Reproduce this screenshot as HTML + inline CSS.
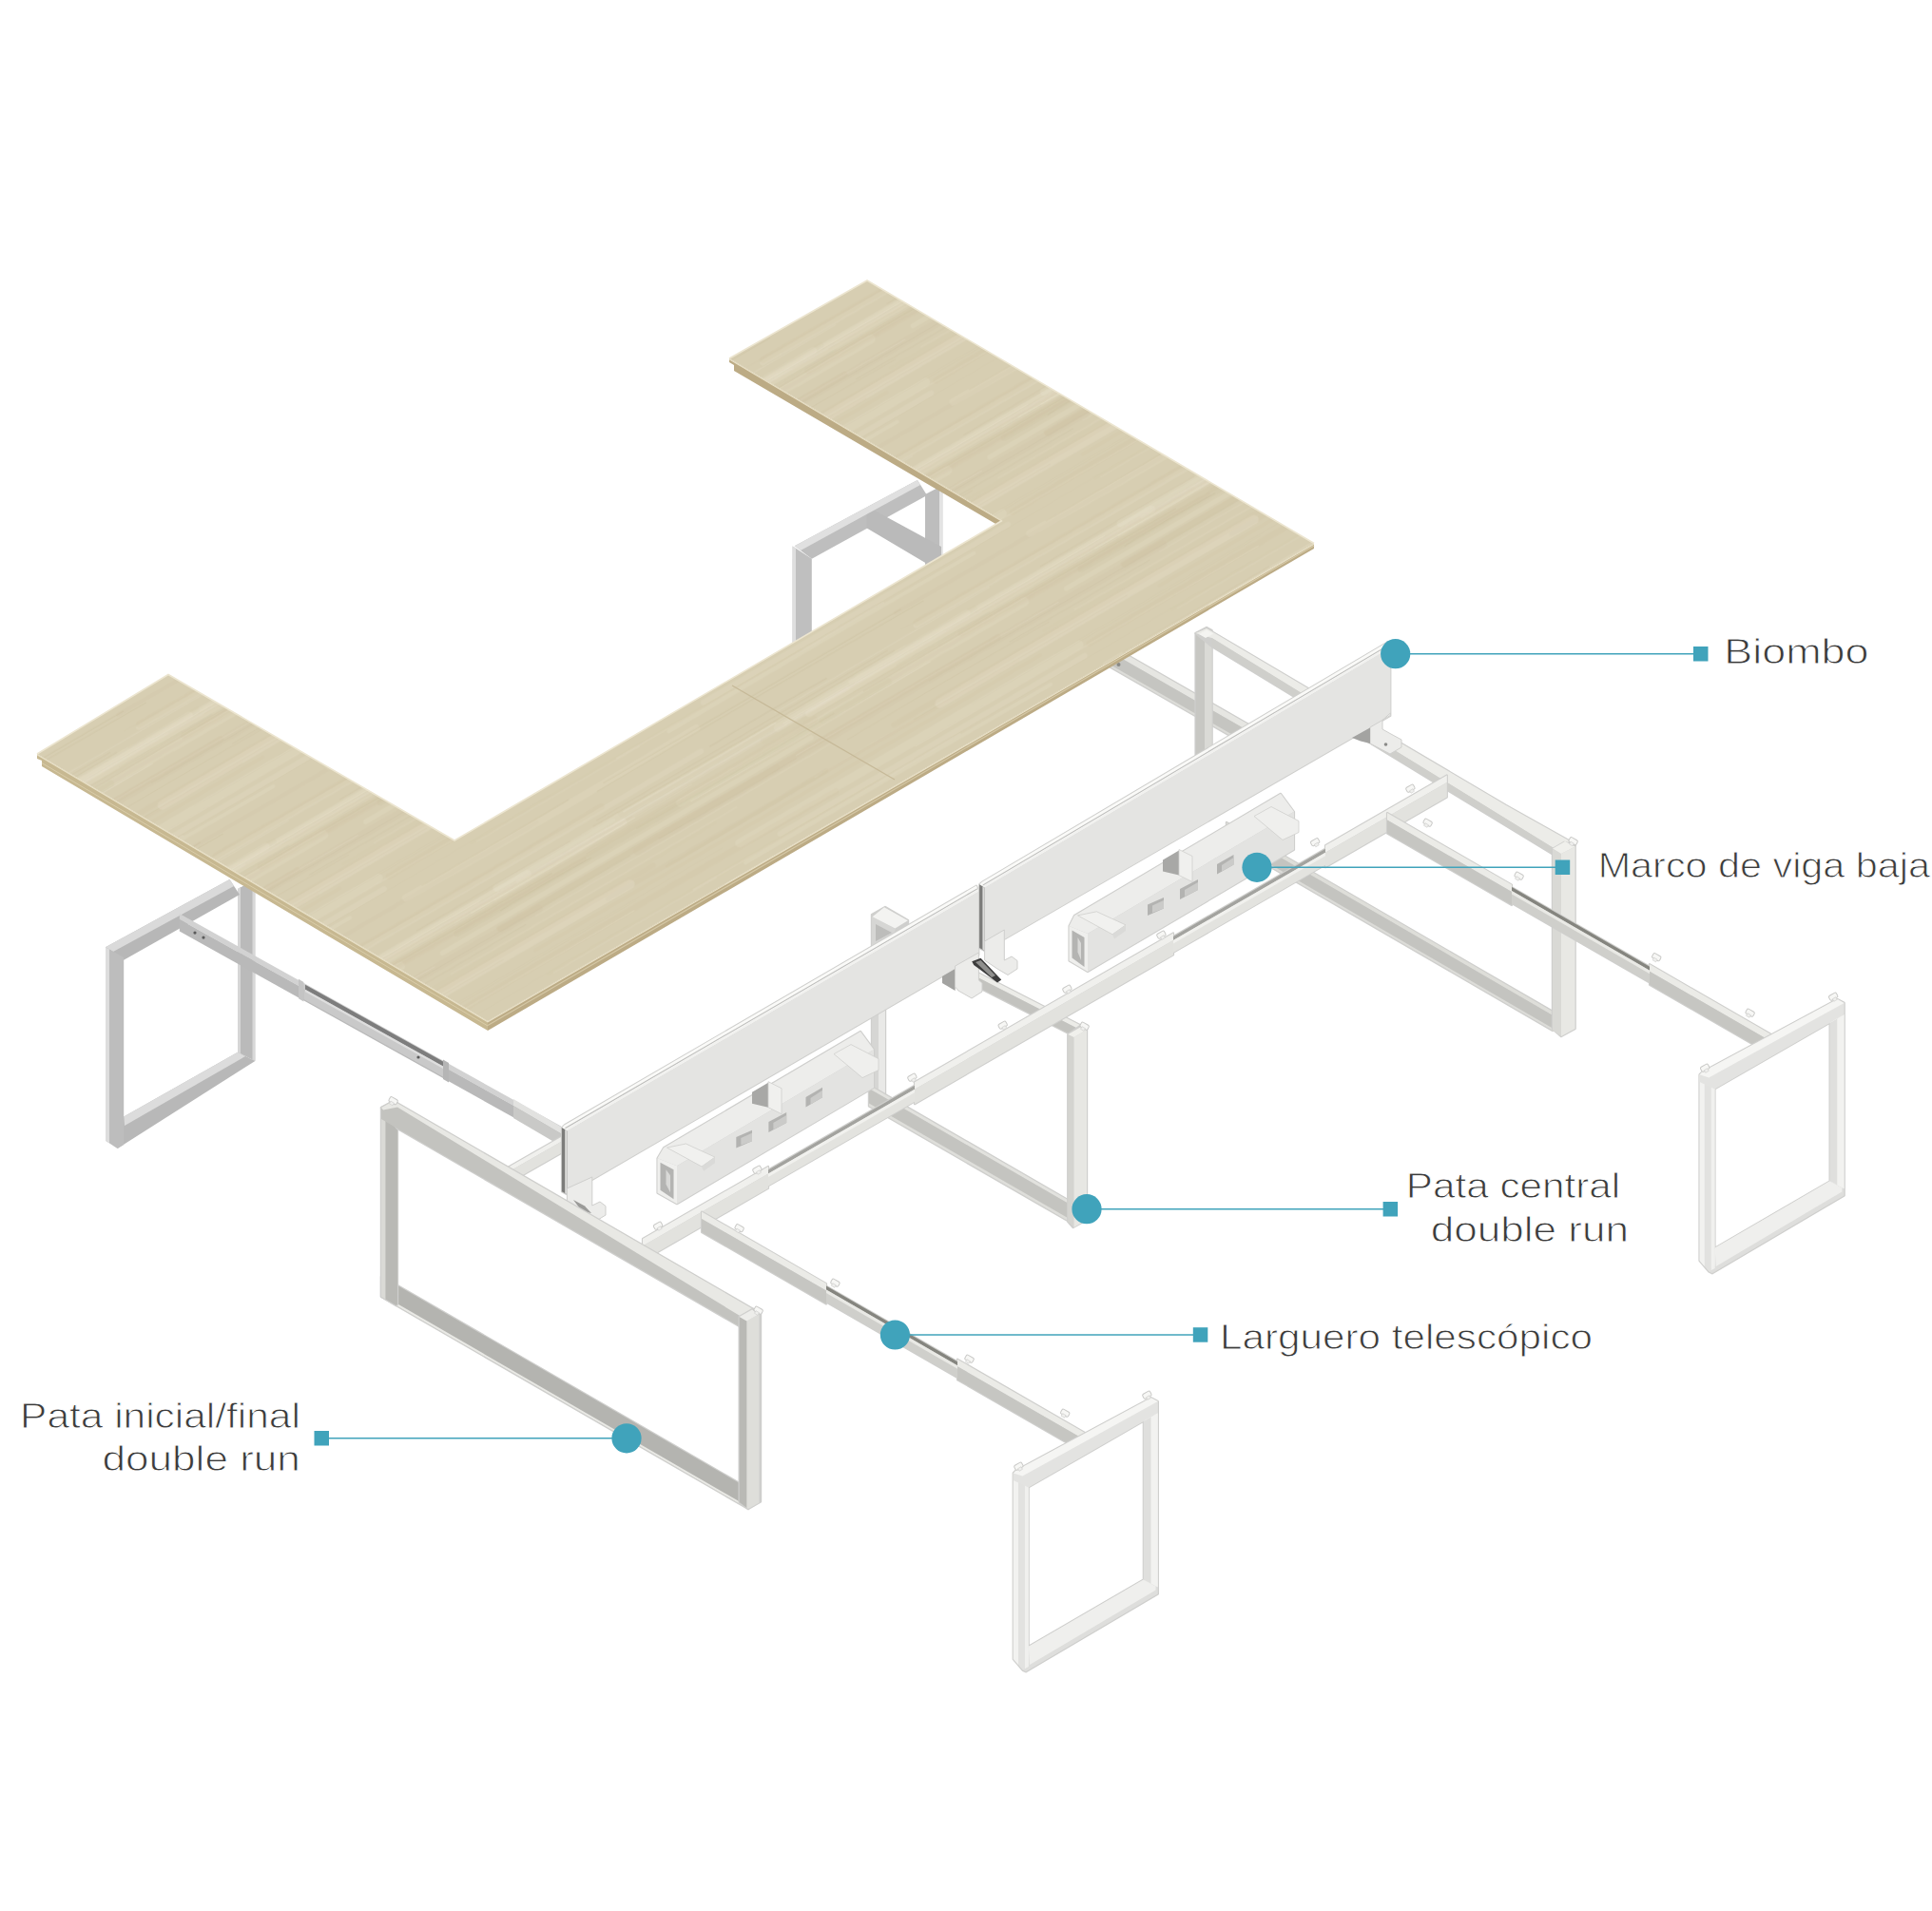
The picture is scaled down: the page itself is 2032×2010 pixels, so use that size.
<!DOCTYPE html>
<html lang="es"><head><meta charset="utf-8"><title>Despiece double run</title>
<style>
html,body{margin:0;padding:0;background:#fff}
svg{display:block}
text{font-family:"Liberation Sans",sans-serif;font-size:36.5px;fill:#3b3b3b;stroke:#fff;stroke-width:0.9px}
</style></head><body>
<svg width="2032" height="2010" viewBox="0 0 2032 2010">
<defs>
<pattern id="grainp" width="760" height="160" patternUnits="userSpaceOnUse" patternTransform="rotate(-30.3)"><path d="M-39 148.0 q303 -0.5 607 0" stroke="#c4b692" stroke-opacity="0.12" stroke-width="6.7" stroke-linecap="round" fill="none"/><path d="M721 148.0 q303 -0.5 607 0" stroke="#c4b692" stroke-opacity="0.12" stroke-width="6.7" stroke-linecap="round" fill="none"/><path d="M146 20.8 q214 -2.9 428 0" stroke="#c4b692" stroke-opacity="0.11" stroke-width="3.6" stroke-linecap="round" fill="none"/><path d="M-440 113.6 q228 -2.7 455 0" stroke="#ede7d3" stroke-opacity="0.17" stroke-width="8.5" stroke-linecap="round" fill="none"/><path d="M320 113.6 q228 -2.7 455 0" stroke="#ede7d3" stroke-opacity="0.17" stroke-width="8.5" stroke-linecap="round" fill="none"/><path d="M-260 94.3 q249 1.6 498 0" stroke="#ede7d3" stroke-opacity="0.17" stroke-width="5.6" stroke-linecap="round" fill="none"/><path d="M500 94.3 q249 1.6 498 0" stroke="#ede7d3" stroke-opacity="0.17" stroke-width="5.6" stroke-linecap="round" fill="none"/><path d="M-258 91.5 q188 1.3 376 0" stroke="#c4b692" stroke-opacity="0.11" stroke-width="7.1" stroke-linecap="round" fill="none"/><path d="M502 91.5 q188 1.3 376 0" stroke="#c4b692" stroke-opacity="0.11" stroke-width="7.1" stroke-linecap="round" fill="none"/><path d="M-272 71.6 q161 1.9 323 0" stroke="#c4b692" stroke-opacity="0.10" stroke-width="4.4" stroke-linecap="round" fill="none"/><path d="M488 71.6 q161 1.9 323 0" stroke="#c4b692" stroke-opacity="0.10" stroke-width="4.4" stroke-linecap="round" fill="none"/><path d="M75 18.3 q133 1.9 266 0" stroke="#c4b692" stroke-opacity="0.12" stroke-width="5.3" stroke-linecap="round" fill="none"/><path d="M219 59.1 q186 -1.4 372 0" stroke="#ede7d3" stroke-opacity="0.20" stroke-width="3.7" stroke-linecap="round" fill="none"/><path d="M-223 125.4 q291 2.5 581 0" stroke="#c4b692" stroke-opacity="0.11" stroke-width="7.1" stroke-linecap="round" fill="none"/><path d="M537 125.4 q291 2.5 581 0" stroke="#c4b692" stroke-opacity="0.11" stroke-width="7.1" stroke-linecap="round" fill="none"/><path d="M-633 -8.7 q320 -2.9 640 0" stroke="#c4b692" stroke-opacity="0.10" stroke-width="8.7" stroke-linecap="round" fill="none"/><path d="M-633 151.3 q320 -2.9 640 0" stroke="#c4b692" stroke-opacity="0.10" stroke-width="8.7" stroke-linecap="round" fill="none"/><path d="M127 -8.7 q320 -2.9 640 0" stroke="#c4b692" stroke-opacity="0.10" stroke-width="8.7" stroke-linecap="round" fill="none"/><path d="M127 151.3 q320 -2.9 640 0" stroke="#c4b692" stroke-opacity="0.10" stroke-width="8.7" stroke-linecap="round" fill="none"/><path d="M-20 110.0 q286 2.9 572 0" stroke="#ede7d3" stroke-opacity="0.20" stroke-width="8.2" stroke-linecap="round" fill="none"/><path d="M740 110.0 q286 2.9 572 0" stroke="#ede7d3" stroke-opacity="0.20" stroke-width="8.2" stroke-linecap="round" fill="none"/><path d="M-19 55.4 q200 -0.2 401 0" stroke="#c4b692" stroke-opacity="0.08" stroke-width="4.4" stroke-linecap="round" fill="none"/><path d="M741 55.4 q200 -0.2 401 0" stroke="#c4b692" stroke-opacity="0.08" stroke-width="4.4" stroke-linecap="round" fill="none"/><path d="M-38 -10.6 q168 -2.0 336 0" stroke="#c4b692" stroke-opacity="0.11" stroke-width="6.8" stroke-linecap="round" fill="none"/><path d="M-38 149.4 q168 -2.0 336 0" stroke="#c4b692" stroke-opacity="0.11" stroke-width="6.8" stroke-linecap="round" fill="none"/><path d="M722 -10.6 q168 -2.0 336 0" stroke="#c4b692" stroke-opacity="0.11" stroke-width="6.8" stroke-linecap="round" fill="none"/><path d="M722 149.4 q168 -2.0 336 0" stroke="#c4b692" stroke-opacity="0.11" stroke-width="6.8" stroke-linecap="round" fill="none"/><path d="M192 130.1 q209 -0.9 419 0" stroke="#ede7d3" stroke-opacity="0.18" stroke-width="9.2" stroke-linecap="round" fill="none"/><path d="M-80 130.2 q263 2.0 525 0" stroke="#c4b692" stroke-opacity="0.13" stroke-width="7.5" stroke-linecap="round" fill="none"/><path d="M680 130.2 q263 2.0 525 0" stroke="#c4b692" stroke-opacity="0.13" stroke-width="7.5" stroke-linecap="round" fill="none"/><path d="M224 38.1 q207 0.3 414 0" stroke="#ede7d3" stroke-opacity="0.20" stroke-width="8.8" stroke-linecap="round" fill="none"/><path d="M-280 17.4 q192 -1.5 383 0" stroke="#ede7d3" stroke-opacity="0.24" stroke-width="9.7" stroke-linecap="round" fill="none"/><path d="M480 17.4 q192 -1.5 383 0" stroke="#ede7d3" stroke-opacity="0.24" stroke-width="9.7" stroke-linecap="round" fill="none"/><path d="M-333 12.6 q233 -0.2 467 0" stroke="#c4b692" stroke-opacity="0.11" stroke-width="6.1" stroke-linecap="round" fill="none"/><path d="M427 12.6 q233 -0.2 467 0" stroke="#c4b692" stroke-opacity="0.11" stroke-width="6.1" stroke-linecap="round" fill="none"/><path d="M3 114.9 q200 2.2 401 0" stroke="#ede7d3" stroke-opacity="0.14" stroke-width="4.4" stroke-linecap="round" fill="none"/><path d="M763 114.9 q200 2.2 401 0" stroke="#ede7d3" stroke-opacity="0.14" stroke-width="4.4" stroke-linecap="round" fill="none"/><path d="M132 109.0 q215 1.2 430 0" stroke="#c4b692" stroke-opacity="0.08" stroke-width="6.4" stroke-linecap="round" fill="none"/><path d="M-350 110.2 q236 2.4 472 0" stroke="#ede7d3" stroke-opacity="0.16" stroke-width="3.6" stroke-linecap="round" fill="none"/><path d="M410 110.2 q236 2.4 472 0" stroke="#ede7d3" stroke-opacity="0.16" stroke-width="3.6" stroke-linecap="round" fill="none"/><path d="M-104 140.3 q225 0.6 449 0" stroke="#ede7d3" stroke-opacity="0.21" stroke-width="5.0" stroke-linecap="round" fill="none"/><path d="M656 140.3 q225 0.6 449 0" stroke="#ede7d3" stroke-opacity="0.21" stroke-width="5.0" stroke-linecap="round" fill="none"/><path d="M266 51.1 q185 -0.7 371 0" stroke="#ede7d3" stroke-opacity="0.17" stroke-width="5.9" stroke-linecap="round" fill="none"/><path d="M-397 130.6 q236 -2.5 472 0" stroke="#c4b692" stroke-opacity="0.09" stroke-width="4.5" stroke-linecap="round" fill="none"/><path d="M363 130.6 q236 -2.5 472 0" stroke="#c4b692" stroke-opacity="0.09" stroke-width="4.5" stroke-linecap="round" fill="none"/><path d="M-112 42.2 q225 -2.3 451 0" stroke="#c4b692" stroke-opacity="0.11" stroke-width="7.0" stroke-linecap="round" fill="none"/><path d="M648 42.2 q225 -2.3 451 0" stroke="#c4b692" stroke-opacity="0.11" stroke-width="7.0" stroke-linecap="round" fill="none"/><path d="M-108 70.7 q177 2.9 354 0" stroke="#ede7d3" stroke-opacity="0.15" stroke-width="7.4" stroke-linecap="round" fill="none"/><path d="M652 70.7 q177 2.9 354 0" stroke="#ede7d3" stroke-opacity="0.15" stroke-width="7.4" stroke-linecap="round" fill="none"/><path d="M-147 6.8 q180 2.0 360 0" stroke="#c4b692" stroke-opacity="0.08" stroke-width="3.6" stroke-linecap="round" fill="none"/><path d="M-147 166.8 q180 2.0 360 0" stroke="#c4b692" stroke-opacity="0.08" stroke-width="3.6" stroke-linecap="round" fill="none"/><path d="M613 6.8 q180 2.0 360 0" stroke="#c4b692" stroke-opacity="0.08" stroke-width="3.6" stroke-linecap="round" fill="none"/><path d="M613 166.8 q180 2.0 360 0" stroke="#c4b692" stroke-opacity="0.08" stroke-width="3.6" stroke-linecap="round" fill="none"/><path d="M-459 118.1 q261 2.5 522 0" stroke="#c4b692" stroke-opacity="0.08" stroke-width="7.6" stroke-linecap="round" fill="none"/><path d="M301 118.1 q261 2.5 522 0" stroke="#c4b692" stroke-opacity="0.08" stroke-width="7.6" stroke-linecap="round" fill="none"/><path d="M-18 27.1 q307 0.7 615 0" stroke="#c4b692" stroke-opacity="0.07" stroke-width="4.0" stroke-linecap="round" fill="none"/><path d="M742 27.1 q307 0.7 615 0" stroke="#c4b692" stroke-opacity="0.07" stroke-width="4.0" stroke-linecap="round" fill="none"/><path d="M-404 117.1 q267 1.9 534 0" stroke="#ede7d3" stroke-opacity="0.23" stroke-width="7.2" stroke-linecap="round" fill="none"/><path d="M356 117.1 q267 1.9 534 0" stroke="#ede7d3" stroke-opacity="0.23" stroke-width="7.2" stroke-linecap="round" fill="none"/><path d="M248 94.6 q71 -1.2 143 0" stroke="#b5a680" stroke-opacity="0.14" stroke-width="1.6" fill="none"/><path d="M576 -1.3 q86 0.7 171 0" stroke="#b5a680" stroke-opacity="0.14" stroke-width="1.0" fill="none"/><path d="M576 158.7 q86 0.7 171 0" stroke="#b5a680" stroke-opacity="0.14" stroke-width="1.0" fill="none"/><path d="M-57 119.2 q100 1.9 200 0" stroke="#f4efde" stroke-opacity="0.22" stroke-width="1.0" fill="none"/><path d="M703 119.2 q100 1.9 200 0" stroke="#f4efde" stroke-opacity="0.22" stroke-width="1.0" fill="none"/><path d="M-14 57.1 q100 -0.6 199 0" stroke="#f4efde" stroke-opacity="0.16" stroke-width="1.0" fill="none"/><path d="M746 57.1 q100 -0.6 199 0" stroke="#f4efde" stroke-opacity="0.16" stroke-width="1.0" fill="none"/><path d="M407 121.3 q84 -0.7 167 0" stroke="#b5a680" stroke-opacity="0.07" stroke-width="1.6" fill="none"/><path d="M122 75.6 q199 -1.9 398 0" stroke="#b5a680" stroke-opacity="0.15" stroke-width="1.3" fill="none"/><path d="M132 71.3 q181 0.1 363 0" stroke="#b5a680" stroke-opacity="0.15" stroke-width="1.6" fill="none"/><path d="M138 130.2 q120 1.9 241 0" stroke="#b5a680" stroke-opacity="0.13" stroke-width="1.6" fill="none"/><path d="M297 134.4 q111 -0.4 222 0" stroke="#b5a680" stroke-opacity="0.06" stroke-width="1.3" fill="none"/><path d="M109 115.1 q207 -0.1 415 0" stroke="#f4efde" stroke-opacity="0.20" stroke-width="0.8" fill="none"/><path d="M322 148.5 q160 -1.5 320 0" stroke="#f4efde" stroke-opacity="0.20" stroke-width="0.8" fill="none"/><path d="M461 120.0 q135 1.9 270 0" stroke="#b5a680" stroke-opacity="0.09" stroke-width="1.3" fill="none"/><path d="M327 112.6 q196 -0.6 392 0" stroke="#f4efde" stroke-opacity="0.17" stroke-width="0.8" fill="none"/><path d="M-252 35.2 q176 1.1 352 0" stroke="#b5a680" stroke-opacity="0.07" stroke-width="1.0" fill="none"/><path d="M508 35.2 q176 1.1 352 0" stroke="#b5a680" stroke-opacity="0.07" stroke-width="1.0" fill="none"/><path d="M85 106.7 q197 1.3 395 0" stroke="#f4efde" stroke-opacity="0.11" stroke-width="0.8" fill="none"/><path d="M-29 132.7 q55 -1.9 111 0" stroke="#b5a680" stroke-opacity="0.14" stroke-width="1.3" fill="none"/><path d="M731 132.7 q55 -1.9 111 0" stroke="#b5a680" stroke-opacity="0.14" stroke-width="1.3" fill="none"/><path d="M-325 43.5 q209 -1.2 418 0" stroke="#f4efde" stroke-opacity="0.21" stroke-width="0.8" fill="none"/><path d="M435 43.5 q209 -1.2 418 0" stroke="#f4efde" stroke-opacity="0.21" stroke-width="0.8" fill="none"/><path d="M100 105.1 q184 1.6 367 0" stroke="#b5a680" stroke-opacity="0.13" stroke-width="1.3" fill="none"/><path d="M0 -3.9 q180 0.3 359 0" stroke="#f4efde" stroke-opacity="0.17" stroke-width="0.8" fill="none"/><path d="M0 156.1 q180 0.3 359 0" stroke="#f4efde" stroke-opacity="0.17" stroke-width="0.8" fill="none"/><path d="M760 -3.9 q180 0.3 359 0" stroke="#f4efde" stroke-opacity="0.17" stroke-width="0.8" fill="none"/><path d="M760 156.1 q180 0.3 359 0" stroke="#f4efde" stroke-opacity="0.17" stroke-width="0.8" fill="none"/><path d="M106 101.8 q177 0.0 355 0" stroke="#b5a680" stroke-opacity="0.11" stroke-width="1.6" fill="none"/><path d="M377 1.3 q123 -1.9 246 0" stroke="#b5a680" stroke-opacity="0.12" stroke-width="1.0" fill="none"/><path d="M377 161.3 q123 -1.9 246 0" stroke="#b5a680" stroke-opacity="0.12" stroke-width="1.0" fill="none"/><path d="M-149 33.3 q177 0.3 355 0" stroke="#b5a680" stroke-opacity="0.07" stroke-width="0.8" fill="none"/><path d="M611 33.3 q177 0.3 355 0" stroke="#b5a680" stroke-opacity="0.07" stroke-width="0.8" fill="none"/><path d="M325 98.2 q131 0.1 262 0" stroke="#f4efde" stroke-opacity="0.16" stroke-width="1.0" fill="none"/><path d="M202 134.3 q146 1.8 292 0" stroke="#f4efde" stroke-opacity="0.19" stroke-width="1.0" fill="none"/><path d="M327 18.4 q60 -0.7 121 0" stroke="#f4efde" stroke-opacity="0.15" stroke-width="0.8" fill="none"/><path d="M112 113.8 q151 0.2 302 0" stroke="#b5a680" stroke-opacity="0.08" stroke-width="1.0" fill="none"/><path d="M-332 53.7 q206 1.5 411 0" stroke="#b5a680" stroke-opacity="0.07" stroke-width="0.8" fill="none"/><path d="M428 53.7 q206 1.5 411 0" stroke="#b5a680" stroke-opacity="0.07" stroke-width="0.8" fill="none"/><path d="M-276 89.9 q171 1.7 343 0" stroke="#b5a680" stroke-opacity="0.06" stroke-width="1.3" fill="none"/><path d="M484 89.9 q171 1.7 343 0" stroke="#b5a680" stroke-opacity="0.06" stroke-width="1.3" fill="none"/><path d="M157 55.9 q163 1.2 326 0" stroke="#f4efde" stroke-opacity="0.14" stroke-width="1.6" fill="none"/><path d="M79 126.4 q135 -1.9 270 0" stroke="#b5a680" stroke-opacity="0.12" stroke-width="0.8" fill="none"/><path d="M-108 3.8 q174 0.9 349 0" stroke="#f4efde" stroke-opacity="0.11" stroke-width="1.3" fill="none"/><path d="M-108 163.8 q174 0.9 349 0" stroke="#f4efde" stroke-opacity="0.11" stroke-width="1.3" fill="none"/><path d="M652 3.8 q174 0.9 349 0" stroke="#f4efde" stroke-opacity="0.11" stroke-width="1.3" fill="none"/><path d="M652 163.8 q174 0.9 349 0" stroke="#f4efde" stroke-opacity="0.11" stroke-width="1.3" fill="none"/><path d="M-278 151.5 q198 0.1 396 0" stroke="#b5a680" stroke-opacity="0.09" stroke-width="1.6" fill="none"/><path d="M482 151.5 q198 0.1 396 0" stroke="#b5a680" stroke-opacity="0.09" stroke-width="1.6" fill="none"/><path d="M135 108.0 q93 1.3 186 0" stroke="#f4efde" stroke-opacity="0.19" stroke-width="1.3" fill="none"/><path d="M-343 125.9 q191 -1.8 381 0" stroke="#b5a680" stroke-opacity="0.12" stroke-width="1.6" fill="none"/><path d="M417 125.9 q191 -1.8 381 0" stroke="#b5a680" stroke-opacity="0.12" stroke-width="1.6" fill="none"/><path d="M-116 106.4 q94 -1.1 188 0" stroke="#b5a680" stroke-opacity="0.11" stroke-width="1.3" fill="none"/><path d="M644 106.4 q94 -1.1 188 0" stroke="#b5a680" stroke-opacity="0.11" stroke-width="1.3" fill="none"/><path d="M-87 68.0 q89 0.8 179 0" stroke="#b5a680" stroke-opacity="0.12" stroke-width="1.3" fill="none"/><path d="M673 68.0 q89 0.8 179 0" stroke="#b5a680" stroke-opacity="0.12" stroke-width="1.3" fill="none"/><path d="M153 151.2 q84 1.9 168 0" stroke="#b5a680" stroke-opacity="0.11" stroke-width="1.6" fill="none"/><path d="M-193 116.9 q167 0.4 334 0" stroke="#b5a680" stroke-opacity="0.11" stroke-width="0.8" fill="none"/><path d="M567 116.9 q167 0.4 334 0" stroke="#b5a680" stroke-opacity="0.11" stroke-width="0.8" fill="none"/><path d="M-77 119.5 q145 -1.5 289 0" stroke="#f4efde" stroke-opacity="0.11" stroke-width="1.0" fill="none"/><path d="M683 119.5 q145 -1.5 289 0" stroke="#f4efde" stroke-opacity="0.11" stroke-width="1.0" fill="none"/><path d="M331 18.6 q189 0.7 377 0" stroke="#b5a680" stroke-opacity="0.07" stroke-width="1.3" fill="none"/></pattern>
</defs>
<rect width="2032" height="2010" fill="#ffffff"/>
<g id="drawing">
<polygon points="250.0,935.0 268.3,925.0 268.3,1116.0 250.0,1106.8" fill="#bababa"/>
<polygon points="250.0,935.0 253.0,933.0 253.0,1108.5 250.0,1106.8" fill="#d6d6d6"/>
<polygon points="265.5,927.0 268.3,925.0 268.3,1116.0 265.5,1114.5" fill="#d8d8d8"/>
<polygon points="111.0,996.3 241.5,925.1 252.0,941.0 130.2,1009.7" fill="#b7b7b7"/>
<polygon points="111.0,996.3 241.5,925.1 246.0,932.0 119.0,1001.0" fill="#dadada"/>
<polygon points="130.2,1174.6 250.0,1106.8 268.3,1116.0 123.5,1208.0" fill="#b8b8b8"/>
<polygon points="130.2,1174.6 250.0,1106.8 258.0,1111.0 131.0,1184.0" fill="#dcdcdc"/>
<polygon points="111.0,996.3 130.2,1007.0 130.2,1204.0 123.5,1208.0 111.0,1199.7" fill="#bdbdbd"/>
<polygon points="111.0,996.3 115.0,998.5 115.0,1202.3 111.0,1199.7" fill="#dddddd"/>
<polygon points="188.8,961.1 590.0,1184.6 590.0,1190.6 188.8,967.1" fill="#d2d2d2"/>
<polygon points="188.8,967.1 590.0,1190.6 590.0,1203.1 188.8,979.6" fill="#b9b9b9"/>
<polygon points="319.4,1034.9 466.0,1116.5 466.0,1132.5 319.4,1050.9" fill="#c9c9c9"/>
<polygon points="321.0,1035.7 466.0,1116.5 466.0,1121.5 321.0,1040.7" fill="#7d7d7d"/>
<polygon points="321.0,1040.7 466.0,1121.5 466.0,1124.0 321.0,1043.2" fill="#dedede"/>
<polygon points="466.0,1114.5 472.0,1117.9 472.0,1138.4 466.0,1135.0" fill="#b5b5b5"/>
<polygon points="314.0,1029.8 319.4,1032.9 319.4,1053.4 314.0,1050.3" fill="#c4c4c4"/>
<circle cx="205.0" cy="981.1" r="1.6" fill="#5a5a5a"/>
<circle cx="214.0" cy="986.1" r="1.6" fill="#5a5a5a"/>
<circle cx="440.0" cy="1112.0" r="1.6" fill="#5a5a5a"/>
<circle cx="548.0" cy="1172.2" r="1.6" fill="#5a5a5a"/>
<polygon points="973.0,520.0 988.4,512.0 988.4,600.0 973.0,600.0" fill="#bdbdbd"/>
<polygon points="988.4,512.0 991.8,514.0 991.8,600.0 988.4,600.0" fill="#e3e3e3"/>
<polygon points="835.7,574.2 964.9,504.9 975.0,521.0 853.8,587.7" fill="#bebebe"/>
<polygon points="835.7,574.2 964.9,504.9 968.0,510.0 842.0,579.0" fill="#e0e0e0"/>
<polygon points="911.7,541.2 920.0,537.0 990.0,575.0 990.0,600.0 975.0,593.0 911.7,555.4" fill="#bababa"/>
<polygon points="833.6,574.5 853.8,587.7 853.8,690.0 833.6,690.0" fill="#bfbfbf"/>
<polygon points="833.6,574.5 837.0,576.5 837.0,690.0 833.6,690.0" fill="#dedede"/>
<polygon points="1163.0,676.0 1330.0,771.6 1330.0,794.6 1163.0,699.0" fill="#cfcfcd" stroke="#cfcfcd" stroke-width="2.4" stroke-linejoin="round"/>
<polygon points="1163.0,676.0 1330.0,771.6 1330.0,778.6 1163.0,683.0" fill="#e6e6e2"/>
<polygon points="1163.0,683.0 1330.0,778.6 1330.0,794.6 1163.0,699.0" fill="#c5c5c1"/>
<polygon points="1163.0,696.5 1330.0,792.1 1330.0,794.6 1163.0,699.0" fill="#dcdcd8"/>
<circle cx="1176.5" cy="699" r="2" fill="#8a8a86"/>
<polygon points="39.0,793.0 513.0,1074.0 513.0,1084.0 44.0,806.0 44.0,800.0 39.0,798.0" fill="#c7b891"/>
<polygon points="513.0,1074.0 1382.0,571.5 1382.0,577.0 513.0,1084.0" fill="#bcab85"/>
<polygon points="767.0,377.0 1054.0,547.5 1054.0,555.0 772.0,390.0 772.0,384.0 767.0,381.0" fill="#bcab85"/>
<line x1="44.0" y1="802.5" x2="513.0" y2="1079.0" stroke="#d9cca8" stroke-width="1"/>
<line x1="513.0" y1="1078.5" x2="1382.0" y2="574.0" stroke="#d4c7a5" stroke-width="1.2"/>
<polygon points="39,793 177,709.5 478,884 1054,547.5 767,377 912,295 1382,571.5 513,1074" fill="#d7ceb2"/>
<polygon points="39,793 177,709.5 478,884 1054,547.5 767,377 912,295 1382,571.5 513,1074" fill="url(#grainp)"/>
<line x1="770.0" y1="721.0" x2="941.0" y2="820.0" stroke="#c6b998" stroke-width="1.3"/>
<polyline points="39,793 177,709.5 478,884 1054,547.5" fill="none" stroke="#ece5d0" stroke-width="1.6"/>
<polyline points="767,377 912,295 1382,571.5" fill="none" stroke="#ece5d0" stroke-width="1.6"/>
<polyline points="39,793.8 513,1074.8 1382,572.3" fill="none" stroke="#e9e1c8" stroke-width="1.2"/>
<polyline points="767,377.8 1054,548.3" fill="none" stroke="#e9e1c8" stroke-width="1.2"/>
<polygon points="1290.0,865.0 1633.0,1063.9 1633.0,1083.9 1290.0,885.0" fill="#cfcfcd" stroke="#cfcfcd" stroke-width="2.4" stroke-linejoin="round"/>
<polygon points="1290.0,865.0 1633.0,1063.9 1633.0,1067.9 1290.0,869.0" fill="#deded9"/>
<polygon points="1290.0,869.0 1633.0,1067.9 1633.0,1083.9 1290.0,885.0" fill="#c4c4c0"/>
<polygon points="1290.0,882.5 1633.0,1081.4 1633.0,1083.9 1290.0,885.0" fill="#dcdcd8"/>
<polygon points="1257.6,666.0 1269.0,660.0 1274.6,663.0 1274.6,820.0 1257.6,820.0" fill="#cfcfcd" stroke="#cfcfcd" stroke-width="2.4" stroke-linejoin="round"/>
<polygon points="1257.6,666.0 1267.0,671.0 1267.0,820.0 1257.6,820.0" fill="#c7c7c3"/>
<polygon points="1267.0,671.0 1274.6,667.0 1274.6,820.0 1267.0,820.0" fill="#dadad6"/>
<polygon points="1257.6,666.0 1269.0,661.0 1584.0,847.0 1650.0,884.0 1656.6,889.0 1634.0,899.1 1274.6,679.9" fill="#cfcfcd" stroke="#cfcfcd" stroke-width="2.4" stroke-linejoin="round"/>
<polygon points="1257.6,666.0 1269.0,661.0 1584.0,847.0 1650.0,884.0 1656.6,889.0 1634.0,891.9 1274.6,671.1" fill="#ecece8"/>
<polygon points="1274.6,671.1 1634.0,891.9 1634.0,899.1 1274.6,679.9" fill="#cfcfcb"/>
<polygon points="1261.0,667.0 1269.0,662.5 1276.0,666.5 1268.0,671.0" fill="#f4f4f1"/>
<polygon points="1633.0,893.0 1645.0,886.0 1656.6,889.0 1656.6,1082.0 1642.0,1090.0 1633.0,1082.0" fill="#cfcfcd" stroke="#cfcfcd" stroke-width="2.4" stroke-linejoin="round"/>
<polygon points="1633.0,893.0 1642.0,898.0 1642.0,1090.0 1633.0,1084.0" fill="#d9d9d5"/>
<polygon points="1642.0,898.0 1656.6,890.5 1656.6,1082.0 1642.0,1090.0" fill="#e8e8e4"/>
<polygon points="1633.0,892.5 1646.0,885.0 1656.6,890.5 1642.0,898.0" fill="#f0f0ec"/>
<polygon points="917.0,962.0 931.0,954.0 955.0,968.0 955.0,975.0 931.0,990.0 931.0,1155.0 917.0,1147.0" fill="#cfcfcd" stroke="#cfcfcd" stroke-width="2.4" stroke-linejoin="round"/>
<polygon points="917.0,964.0 941.4,977.0 941.4,990.0 931.0,990.0 931.0,1155.0 917.0,1147.0" fill="#d6d6d4"/>
<polygon points="921.0,972.0 938.0,981.0 921.0,990.0" fill="#bdbdbb"/>
<polygon points="924.0,990.0 931.0,990.0 931.0,1155.0 924.0,1151.0" fill="#e9e9e7"/>
<polygon points="917.6,964.2 930.0,954.3 954.9,968.3 941.4,976.6" fill="#f3f3f1"/>
<polygon points="914.0,1141.4 1123.0,1262.0 1123.0,1284.0 914.0,1163.4" fill="#cfcfcd" stroke="#cfcfcd" stroke-width="2.4" stroke-linejoin="round"/>
<polygon points="914.0,1141.4 1123.0,1262.0 1123.0,1265.5 914.0,1144.9" fill="#e2e2de"/>
<polygon points="914.0,1144.9 1123.0,1265.5 1123.0,1284.0 914.0,1163.4" fill="#c4c4c0"/>
<polygon points="914.0,1160.4 1123.0,1281.0 1123.0,1284.0 914.0,1163.4" fill="#dedeDa"/>
<polygon points="990.0,1003.5 1137.7,1079.0 1137.7,1094.0 990.0,1018.5" fill="#cfcfcd" stroke="#cfcfcd" stroke-width="2.4" stroke-linejoin="round"/>
<polygon points="990.0,1003.5 1137.7,1079.0 1137.7,1084.0 990.0,1008.5" fill="#ecece8"/>
<polygon points="990.0,1008.5 1137.7,1084.0 1137.7,1094.0 990.0,1018.5" fill="#c3c3bf"/>
<polygon points="1123.3,1088.0 1137.7,1078.0 1143.0,1081.0 1143.0,1283.0 1128.6,1291.0 1123.3,1285.0" fill="#cfcfcd" stroke="#cfcfcd" stroke-width="2.4" stroke-linejoin="round"/>
<polygon points="1123.3,1088.0 1129.5,1091.0 1129.5,1291.0 1123.3,1285.0" fill="#d4d4d0"/>
<polygon points="1129.5,1091.0 1143.0,1083.0 1143.0,1283.0 1129.5,1291.0" fill="#e7e7e3"/>
<polygon points="1123.3,1088.0 1137.0,1080.0 1143.0,1083.0 1129.5,1091.0" fill="#f0f0ec"/>
<polygon points="540.0,1156.0 592.0,1186.5 592.0,1193.5 540.0,1163.0" fill="#e2e2e0"/>
<polygon points="540.0,1163.0 592.0,1193.5 592.0,1206.5 540.0,1176.0" fill="#c9c9c7"/>
<polygon points="534.0,1228.0 590.0,1196.0 590.0,1213.0 534.0,1245.0" fill="#cfcfcd" stroke="#cfcfcd" stroke-width="2.4" stroke-linejoin="round"/>
<polygon points="534.0,1228.0 590.0,1196.0 590.0,1201.0 534.0,1233.0" fill="#f0f0ed"/>
<polygon points="534.0,1233.0 590.0,1201.0 590.0,1213.0 534.0,1245.0" fill="#e2e2de"/>
<polygon points="691.5,1218.2 698.0,1207.2 905.0,1084.9 919.0,1103.9 919.0,1143.9 712.0,1266.2 691.5,1254.7" fill="#cfcfcd" stroke="#cfcfcd" stroke-width="2.2" stroke-linejoin="round"/>
<polygon points="691.5,1218.2 698.0,1207.2 905.0,1084.9 919.0,1103.9 712.0,1226.2" fill="#ededeb"/>
<polygon points="712.0,1226.2 919.0,1103.9 919.0,1143.9 712.0,1266.2" fill="#e3e3e1"/>
<polygon points="691.5,1218.2 712.0,1226.2 712.0,1266.2 691.5,1254.7" fill="#efefed"/>
<polygon points="694.5,1222.7 708.5,1230.2 708.5,1261.2 694.5,1251.7" fill="#b4b4b2"/>
<polygon points="700.5,1230.2 705.0,1236.2 705.0,1254.2 700.5,1245.7" fill="#d9d9d7"/>
<polygon points="701.5,1207.1 721.4,1203.0 752.0,1217.1 738.0,1227.0" fill="#f1f1ef" stroke="#cfcfcd" stroke-width="0.8" stroke-linejoin="round"/>
<polygon points="738.0,1227.0 752.0,1217.1 752.0,1223.2 740.0,1231.7" fill="#dadad8"/>
<polygon points="791.0,1148.7 808.0,1138.7 808.0,1164.7 791.0,1160.7" fill="#a8a8a6"/>
<polygon points="808.0,1137.7 822.0,1144.7 822.0,1171.7 808.0,1164.7" fill="#f0f0ee" stroke="#cfcfcd" stroke-width="0.8" stroke-linejoin="round"/>
<polygon points="877.0,1108.6 895.0,1098.6 924.0,1113.6 924.0,1125.6 907.0,1133.6" fill="#efefed" stroke="#cfcfcd" stroke-width="0.8" stroke-linejoin="round"/>
<polygon points="774.3,1196.0 791.0,1188.7 791.0,1200.2 774.3,1207.5" fill="#b3b3b1"/>
<polygon points="779.3,1197.0 791.0,1191.7 791.0,1200.2 779.3,1204.5" fill="#cbcbc9"/>
<polygon points="808.4,1180.0 827.2,1169.9 827.2,1180.9 808.4,1191.0" fill="#b3b3b1"/>
<polygon points="813.4,1181.0 827.2,1172.9 827.2,1180.9 813.4,1188.0" fill="#cbcbc9"/>
<polygon points="847.5,1154.0 865.0,1143.8 865.0,1154.3 847.5,1164.5" fill="#b3b3b1"/>
<polygon points="852.5,1155.0 865.0,1146.8 865.0,1154.3 852.5,1161.5" fill="#cbcbc9"/>
<polygon points="1124.5,974.0 1130.0,963.0 1347.0,834.8 1361.0,853.8 1361.0,893.8 1144.0,1022.0 1124.5,1010.5" fill="#cfcfcd" stroke="#cfcfcd" stroke-width="2.2" stroke-linejoin="round"/>
<polygon points="1124.5,974.0 1130.0,963.0 1347.0,834.8 1361.0,853.8 1144.0,982.0" fill="#ededeb"/>
<polygon points="1144.0,982.0 1361.0,853.8 1361.0,893.8 1144.0,1022.0" fill="#e3e3e1"/>
<polygon points="1124.5,974.0 1144.0,982.0 1144.0,1022.0 1124.5,1010.5" fill="#efefed"/>
<polygon points="1127.5,978.5 1140.5,986.0 1140.5,1017.0 1127.5,1007.5" fill="#b4b4b2"/>
<polygon points="1133.5,986.0 1137.0,992.0 1137.0,1010.0 1133.5,1001.5" fill="#d9d9d7"/>
<polygon points="1133.5,962.9 1153.4,958.8 1184.0,972.9 1170.0,982.8" fill="#f1f1ef" stroke="#cfcfcd" stroke-width="0.8" stroke-linejoin="round"/>
<polygon points="1170.0,982.8 1184.0,972.9 1184.0,979.0 1172.0,987.5" fill="#dadad8"/>
<polygon points="1223.0,904.5 1240.0,894.5 1240.0,920.5 1223.0,916.5" fill="#a8a8a6"/>
<polygon points="1240.0,893.5 1254.0,900.5 1254.0,927.5 1240.0,920.5" fill="#f0f0ee" stroke="#cfcfcd" stroke-width="0.8" stroke-linejoin="round"/>
<polygon points="1319.0,858.5 1337.0,848.5 1366.0,863.5 1366.0,875.5 1349.0,883.5" fill="#efefed" stroke="#cfcfcd" stroke-width="0.8" stroke-linejoin="round"/>
<polygon points="1207.0,951.5 1224.0,944.0 1224.0,955.5 1207.0,963.0" fill="#b3b3b1"/>
<polygon points="1212.0,952.5 1224.0,947.0 1224.0,955.5 1212.0,960.0" fill="#cbcbc9"/>
<polygon points="1241.0,935.0 1260.0,925.0 1260.0,936.0 1241.0,946.0" fill="#b3b3b1"/>
<polygon points="1246.0,936.0 1260.0,928.0 1260.0,936.0 1246.0,943.0" fill="#cbcbc9"/>
<polygon points="1280.0,909.0 1297.5,899.0 1297.5,909.5 1280.0,919.5" fill="#b3b3b1"/>
<polygon points="1285.0,910.0 1297.5,902.0 1297.5,909.5 1285.0,916.5" fill="#cbcbc9"/>
<polygon points="590.9,1186.0 593.9,1183.2 1026.9,931.5 1029.4,936.8 1029.4,1004.6 596.4,1256.3 590.9,1253.3" fill="#cfcfcd" stroke="#cfcfcd" stroke-width="2.0" stroke-linejoin="round"/>
<polygon points="590.9,1186.0 593.9,1183.2 1026.9,931.5 1029.4,937.8 596.4,1189.5" fill="#fafaf8"/>
<polygon points="594.4,1186.1 1027.9,934.2 1027.9,935.5 594.4,1187.4" fill="#bfbfbd"/>
<polygon points="595.6,1187.1 1028.6,935.5 1029.4,937.8 596.4,1189.5" fill="#f1f1ef"/>
<polygon points="596.4,1189.5 1029.4,937.8 1029.4,1004.6 596.4,1256.3" fill="#e4e4e2"/>
<polygon points="590.9,1186.0 596.4,1189.5 596.4,1256.3 590.9,1253.3" fill="#7c7c7a"/>
<polygon points="594.2,1188.1 596.4,1189.5 596.4,1256.3 594.2,1254.9" fill="#dcdcda"/>
<polygon points="596.4,1250.0 622.8,1238.0 622.8,1268.0 631.0,1264.0 637.0,1268.5 637.0,1278.0 628.0,1283.5 596.4,1268.0" fill="#ececea" stroke="#cfcfcd" stroke-width="1" stroke-linejoin="round"/>
<polygon points="603.0,1262.0 615.0,1268.5 622.0,1276.0 612.0,1274.0" fill="#9a9a98"/>
<polygon points="991.0,1027.0 1004.6,1019.0 1004.6,1042.0 991.0,1034.0" fill="#a3a3a1"/>
<polygon points="1004.6,1016.0 1029.4,1002.0 1029.4,1031.0 1033.0,1034.0 1033.0,1043.0 1022.0,1050.0 1008.0,1042.0 1004.6,1038.0" fill="#ececea" stroke="#cfcfcd" stroke-width="1" stroke-linejoin="round"/>
<polygon points="1022.2,1011.3 1031.5,1007.7 1053.2,1030.4 1049.0,1033.5 1024.2,1014.9" fill="#3c3c3c"/>
<polygon points="1026.0,1012.0 1031.5,1010.0 1047.0,1026.0 1043.0,1028.0" fill="#8f8f8d"/>
<polygon points="1030.1,930.3 1033.1,927.5 1459.9,675.0 1462.4,680.3 1462.4,753.0 1035.6,1000.0 1030.1,997.0" fill="#cfcfcd" stroke="#cfcfcd" stroke-width="2.0" stroke-linejoin="round"/>
<polygon points="1030.1,930.3 1033.1,927.5 1459.9,675.0 1462.4,681.3 1035.6,933.8" fill="#fafaf8"/>
<polygon points="1033.6,930.4 1460.9,677.7 1460.9,679.0 1033.6,931.7" fill="#bfbfbd"/>
<polygon points="1034.8,931.4 1461.6,679.0 1462.4,681.3 1035.6,933.8" fill="#f1f1ef"/>
<polygon points="1035.6,933.8 1462.4,681.3 1462.4,753.0 1035.6,1000.0" fill="#e4e4e2"/>
<polygon points="1030.1,930.3 1035.6,933.8 1035.6,1000.0 1030.1,997.0" fill="#7c7c7a"/>
<polygon points="1033.4,932.4 1035.6,933.8 1035.6,1000.0 1033.4,998.6" fill="#dcdcda"/>
<polygon points="1035.6,990.0 1056.3,978.0 1056.3,1010.0 1064.0,1006.0 1070.0,1010.5 1070.0,1019.0 1060.0,1025.5 1049.0,1019.0 1035.6,1010.0" fill="#ececea" stroke="#cfcfcd" stroke-width="1" stroke-linejoin="round"/>
<polygon points="1441.0,765.0 1462.4,752.5 1462.4,750.0 1454.0,757.5 1454.0,767.0 1462.0,771.5 1474.0,778.0 1474.0,786.0 1462.0,793.0 1441.0,782.0" fill="#ececea" stroke="#cfcfcd" stroke-width="1" stroke-linejoin="round"/>
<polygon points="1422.0,776.0 1441.0,765.5 1441.0,782.0 1431.0,779.5" fill="#a3a3a1"/>
<circle cx="1457.5" cy="783" r="1.8" fill="#8a8a88"/>
<polygon points="676.0,1303.0 808.0,1226.9 808.0,1249.9 676.0,1326.0" fill="#cfcfcd" stroke="#cfcfcd" stroke-width="2.2" stroke-linejoin="round"/>
<polygon points="962.0,1138.2 1234.0,981.4 1234.0,1004.4 962.0,1161.2" fill="#cfcfcd" stroke="#cfcfcd" stroke-width="2.2" stroke-linejoin="round"/>
<polygon points="1394.0,889.2 1521.8,815.5 1521.8,838.5 1394.0,912.2" fill="#cfcfcd" stroke="#cfcfcd" stroke-width="2.2" stroke-linejoin="round"/>
<polygon points="808.0,1230.4 962.0,1141.7 962.0,1158.7 808.0,1247.4" fill="#cfcfcd" stroke="#cfcfcd" stroke-width="2.0" stroke-linejoin="round"/>
<polygon points="808.0,1230.4 962.0,1141.7 962.0,1158.7 808.0,1247.4" fill="#e3e3df"/>
<polygon points="808.0,1230.4 962.0,1141.7 962.0,1145.7 808.0,1234.4" fill="#a3a39f"/>
<polygon points="808.0,1234.4 962.0,1145.7 962.0,1149.2 808.0,1237.9" fill="#f1f1ee"/>
<polygon points="1234.0,984.9 1394.0,892.7 1394.0,909.7 1234.0,1001.9" fill="#cfcfcd" stroke="#cfcfcd" stroke-width="2.0" stroke-linejoin="round"/>
<polygon points="1234.0,984.9 1394.0,892.7 1394.0,909.7 1234.0,1001.9" fill="#e3e3df"/>
<polygon points="1234.0,984.9 1394.0,892.7 1394.0,896.7 1234.0,988.9" fill="#a3a39f"/>
<polygon points="1234.0,988.9 1394.0,896.7 1394.0,900.2 1234.0,992.4" fill="#f1f1ee"/>
<polygon points="676.0,1303.0 808.0,1226.9 808.0,1234.4 676.0,1310.5" fill="#f0f0ed"/>
<polygon points="676.0,1310.5 808.0,1234.4 808.0,1249.9 676.0,1326.0" fill="#e2e2de"/>
<polygon points="962.0,1138.2 1234.0,981.4 1234.0,988.9 962.0,1145.7" fill="#f0f0ed"/>
<polygon points="962.0,1145.7 1234.0,988.9 1234.0,1004.4 962.0,1161.2" fill="#e2e2de"/>
<polygon points="1394.0,889.2 1521.8,815.5 1521.8,823.0 1394.0,896.7" fill="#f0f0ed"/>
<polygon points="1394.0,896.7 1521.8,823.0 1521.8,838.5 1394.0,912.2" fill="#e2e2de"/>
<polygon points="738.0,1274.5 869.0,1350.1 869.0,1371.6 738.0,1296.0" fill="#cfcfcd" stroke="#cfcfcd" stroke-width="2.2" stroke-linejoin="round"/>
<polygon points="1007.0,1429.7 1141.0,1507.0 1141.0,1528.5 1007.0,1451.2" fill="#cfcfcd" stroke="#cfcfcd" stroke-width="2.2" stroke-linejoin="round"/>
<polygon points="869.0,1352.6 1007.0,1432.2 1007.0,1449.2 869.0,1369.6" fill="#cfcfcd" stroke="#cfcfcd" stroke-width="2.0" stroke-linejoin="round"/>
<polygon points="869.0,1352.6 1007.0,1432.2 1007.0,1449.2 869.0,1369.6" fill="#cfcfcb"/>
<polygon points="869.0,1352.6 1007.0,1432.2 1007.0,1436.2 869.0,1356.6" fill="#85857f"/>
<polygon points="869.0,1356.6 1007.0,1436.2 1007.0,1439.7 869.0,1360.1" fill="#e9e9e5"/>
<polygon points="738.0,1274.5 869.0,1350.1 869.0,1357.6 738.0,1282.0" fill="#ebebe7"/>
<polygon points="738.0,1282.0 869.0,1357.6 869.0,1371.6 738.0,1296.0" fill="#c6c6c2"/>
<polygon points="1007.0,1429.7 1141.0,1507.0 1141.0,1514.5 1007.0,1437.2" fill="#ebebe7"/>
<polygon points="1007.0,1437.2 1141.0,1514.5 1141.0,1528.5 1007.0,1451.2" fill="#c6c6c2"/>
<polygon points="1459.0,855.0 1590.0,930.6 1590.0,952.1 1459.0,876.5" fill="#cfcfcd" stroke="#cfcfcd" stroke-width="2.2" stroke-linejoin="round"/>
<polygon points="1735.0,1014.2 1862.0,1087.5 1862.0,1109.0 1735.0,1035.7" fill="#cfcfcd" stroke="#cfcfcd" stroke-width="2.2" stroke-linejoin="round"/>
<polygon points="1590.0,933.1 1735.0,1016.7 1735.0,1033.7 1590.0,950.1" fill="#cfcfcd" stroke="#cfcfcd" stroke-width="2.0" stroke-linejoin="round"/>
<polygon points="1590.0,933.1 1735.0,1016.7 1735.0,1033.7 1590.0,950.1" fill="#cfcfcb"/>
<polygon points="1590.0,933.1 1735.0,1016.7 1735.0,1020.7 1590.0,937.1" fill="#85857f"/>
<polygon points="1590.0,937.1 1735.0,1020.7 1735.0,1024.2 1590.0,940.6" fill="#e9e9e5"/>
<polygon points="1459.0,855.0 1590.0,930.6 1590.0,938.1 1459.0,862.5" fill="#ebebe7"/>
<polygon points="1459.0,862.5 1590.0,938.1 1590.0,952.1 1459.0,876.5" fill="#c6c6c2"/>
<polygon points="1735.0,1014.2 1862.0,1087.5 1862.0,1095.0 1735.0,1021.7" fill="#ebebe7"/>
<polygon points="1735.0,1021.7 1862.0,1095.0 1862.0,1109.0 1735.0,1035.7" fill="#c6c6c2"/>
<polygon points="401.0,1342.7 418.0,1352.0 777.7,1560.0 787.0,1587.0 416.6,1373.0 401.0,1363.7" fill="#cfcfcd" stroke="#cfcfcd" stroke-width="2.4" stroke-linejoin="round"/>
<polygon points="418.0,1352.0 777.7,1560.0 787.0,1587.0 416.6,1373.0 418.0,1357.0" fill="#b4b4b0"/>
<polygon points="417.0,1370.8 786.5,1584.5 787.0,1587.0 416.6,1373.0" fill="#e9e9e5"/>
<polygon points="401.0,1165.0 414.0,1158.0 418.0,1160.3 418.0,1372.0 416.6,1373.0 401.0,1363.7" fill="#cfcfcd" stroke="#cfcfcd" stroke-width="2.4" stroke-linejoin="round"/>
<polygon points="401.0,1165.0 405.5,1168.0 405.5,1366.5 401.0,1363.7" fill="#dadad6"/>
<polygon points="405.5,1168.0 418.0,1161.0 418.0,1372.0 416.6,1373.0 405.5,1366.5" fill="#b9b9b5"/>
<polygon points="401.0,1165.0 414.0,1158.0 792.0,1376.8 777.7,1395.0 418.0,1187.0" fill="#cfcfcd" stroke="#cfcfcd" stroke-width="2.4" stroke-linejoin="round"/>
<polygon points="401.0,1165.0 414.0,1158.0 792.0,1376.8 779.0,1384.5 777.7,1395.0 418.0,1187.0 401.0,1177.0" fill="#c3c3bf"/>
<polygon points="401.0,1165.0 414.0,1158.0 792.0,1376.8 779.0,1384.5 418.0,1164.5 403.0,1167.5" fill="#e8e8e4"/>
<polygon points="777.7,1385.0 792.0,1376.8 800.0,1380.5 800.0,1579.5 787.0,1587.0 777.7,1580.0" fill="#cfcfcd" stroke="#cfcfcd" stroke-width="2.4" stroke-linejoin="round"/>
<polygon points="777.7,1385.0 785.5,1389.5 785.5,1586.0 777.7,1580.0" fill="#b9b9b5"/>
<polygon points="785.5,1389.5 798.5,1382.0 798.5,1580.5 787.0,1587.0 785.5,1586.0" fill="#dededa"/>
<polygon points="777.7,1385.0 791.0,1377.5 798.5,1382.0 785.5,1389.5" fill="#ededea"/>
<polygon points="1065.8,1549.4 1068.5,1546.7 1210.7,1470.2 1217.8,1474.0 1217.8,1676.5 1079.0,1758.3 1075.6,1756.6 1065.8,1745.0" fill="none" stroke="#cfcfcd" stroke-width="2.4" stroke-linejoin="round"/>
<polygon points="1081.8,1564.5 1202.7,1495.0 1202.7,1661.4 1081.8,1731.7" fill="none" stroke="#cfcfcd" stroke-width="2.0" stroke-linejoin="round"/>
<polygon points="1081.8,1731.7 1202.7,1661.4 1217.8,1669.4 1217.8,1676.5 1079.0,1758.3 1075.6,1756.6 1081.8,1750.0" fill="#dededc"/>
<polygon points="1081.8,1731.7 1202.7,1661.4 1215.5,1668.5 1215.5,1672.5 1083.0,1751.0" fill="#efefed"/>
<polygon points="1065.8,1549.4 1081.8,1557.0 1081.8,1753.0 1075.6,1756.6 1065.8,1745.0" fill="#e2e2e0"/>
<polygon points="1065.8,1549.4 1071.0,1552.0 1071.0,1751.0 1065.8,1745.0" fill="#f2f2f0"/>
<polygon points="1078.0,1555.5 1081.8,1557.0 1081.8,1753.0 1078.0,1755.0" fill="#f0f0ee"/>
<polygon points="1202.7,1495.0 1217.8,1486.0 1217.8,1669.4 1202.7,1661.4" fill="#dfdfdd"/>
<polygon points="1210.5,1490.4 1217.8,1486.0 1217.8,1669.4 1210.5,1665.5" fill="#f2f2f0"/>
<polygon points="1065.8,1549.4 1068.5,1546.7 1210.7,1470.2 1217.8,1474.0 1217.8,1486.0 1202.7,1495.0 1081.8,1564.5 1065.8,1557.0" fill="#e3e3e1"/>
<polygon points="1065.8,1549.4 1068.5,1546.7 1210.7,1470.2 1217.8,1474.0 1075.5,1552.5" fill="#f5f5f3"/>
<polygon points="1787.6,1130.3 1790.3,1127.6 1932.5,1051.1 1939.6,1054.9 1939.6,1257.4 1800.8,1339.2 1797.4,1337.5 1787.6,1325.9" fill="none" stroke="#cfcfcd" stroke-width="2.4" stroke-linejoin="round"/>
<polygon points="1803.6,1145.4 1924.5,1075.9 1924.5,1242.3 1803.6,1312.6" fill="none" stroke="#cfcfcd" stroke-width="2.0" stroke-linejoin="round"/>
<polygon points="1803.6,1312.6 1924.5,1242.3 1939.6,1250.3 1939.6,1257.4 1800.8,1339.2 1797.4,1337.5 1803.6,1330.9" fill="#dededc"/>
<polygon points="1803.6,1312.6 1924.5,1242.3 1937.3,1249.4 1937.3,1253.4 1804.8,1331.9" fill="#efefed"/>
<polygon points="1787.6,1130.3 1803.6,1137.9 1803.6,1333.9 1797.4,1337.5 1787.6,1325.9" fill="#e2e2e0"/>
<polygon points="1787.6,1130.3 1792.8,1132.9 1792.8,1331.9 1787.6,1325.9" fill="#f2f2f0"/>
<polygon points="1799.8,1136.4 1803.6,1137.9 1803.6,1333.9 1799.8,1335.9" fill="#f0f0ee"/>
<polygon points="1924.5,1075.9 1939.6,1066.9 1939.6,1250.3 1924.5,1242.3" fill="#dfdfdd"/>
<polygon points="1932.3,1071.3 1939.6,1066.9 1939.6,1250.3 1932.3,1246.4" fill="#f2f2f0"/>
<polygon points="1787.6,1130.3 1790.3,1127.6 1932.5,1051.1 1939.6,1054.9 1939.6,1066.9 1924.5,1075.9 1803.6,1145.4 1787.6,1137.9" fill="#e3e3e1"/>
<polygon points="1787.6,1130.3 1790.3,1127.6 1932.5,1051.1 1939.6,1054.9 1797.3,1133.4" fill="#f5f5f3"/>
<g transform="translate(693.7,1292.0) rotate(-30)"><rect x="-4.5" y="-6" width="9" height="5.5" rx="1.6" fill="#f7f7f5" stroke="#c9c9c7" stroke-width="1"/><rect x="-2" y="-1.5" width="4" height="3" fill="#efefed" stroke="#cfcfcd" stroke-width="0.6"/></g>
<g transform="translate(798.0,1233.0) rotate(-30)"><rect x="-4.5" y="-6" width="9" height="5.5" rx="1.6" fill="#f7f7f5" stroke="#c9c9c7" stroke-width="1"/><rect x="-2" y="-1.5" width="4" height="3" fill="#efefed" stroke="#cfcfcd" stroke-width="0.6"/></g>
<g transform="translate(961.0,1136.0) rotate(-30)"><rect x="-4.5" y="-6" width="9" height="5.5" rx="1.6" fill="#f7f7f5" stroke="#c9c9c7" stroke-width="1"/><rect x="-2" y="-1.5" width="4" height="3" fill="#efefed" stroke="#cfcfcd" stroke-width="0.6"/></g>
<g transform="translate(1056.3,1081.0) rotate(-30)"><rect x="-4.5" y="-6" width="9" height="5.5" rx="1.6" fill="#f7f7f5" stroke="#c9c9c7" stroke-width="1"/><rect x="-2" y="-1.5" width="4" height="3" fill="#efefed" stroke="#cfcfcd" stroke-width="0.6"/></g>
<g transform="translate(1124.0,1043.0) rotate(-30)"><rect x="-4.5" y="-6" width="9" height="5.5" rx="1.6" fill="#f7f7f5" stroke="#c9c9c7" stroke-width="1"/><rect x="-2" y="-1.5" width="4" height="3" fill="#efefed" stroke="#cfcfcd" stroke-width="0.6"/></g>
<g transform="translate(1223.0,986.0) rotate(-30)"><rect x="-4.5" y="-6" width="9" height="5.5" rx="1.6" fill="#f7f7f5" stroke="#c9c9c7" stroke-width="1"/><rect x="-2" y="-1.5" width="4" height="3" fill="#efefed" stroke="#cfcfcd" stroke-width="0.6"/></g>
<g transform="translate(1384.8,888.5) rotate(-30)"><rect x="-4.5" y="-6" width="9" height="5.5" rx="1.6" fill="#f7f7f5" stroke="#c9c9c7" stroke-width="1"/><rect x="-2" y="-1.5" width="4" height="3" fill="#efefed" stroke="#cfcfcd" stroke-width="0.6"/></g>
<g transform="translate(1485.0,832.0) rotate(-30)"><rect x="-4.5" y="-6" width="9" height="5.5" rx="1.6" fill="#f7f7f5" stroke="#c9c9c7" stroke-width="1"/><rect x="-2" y="-1.5" width="4" height="3" fill="#efefed" stroke="#cfcfcd" stroke-width="0.6"/></g>
<g transform="translate(776.0,1294.5) rotate(30)"><rect x="-4.5" y="-6" width="9" height="5.5" rx="1.6" fill="#f7f7f5" stroke="#c9c9c7" stroke-width="1"/><rect x="-2" y="-1.5" width="4" height="3" fill="#efefed" stroke="#cfcfcd" stroke-width="0.6"/></g>
<g transform="translate(876.8,1352.0) rotate(30)"><rect x="-4.5" y="-6" width="9" height="5.5" rx="1.6" fill="#f7f7f5" stroke="#c9c9c7" stroke-width="1"/><rect x="-2" y="-1.5" width="4" height="3" fill="#efefed" stroke="#cfcfcd" stroke-width="0.6"/></g>
<g transform="translate(1017.9,1432.0) rotate(30)"><rect x="-4.5" y="-6" width="9" height="5.5" rx="1.6" fill="#f7f7f5" stroke="#c9c9c7" stroke-width="1"/><rect x="-2" y="-1.5" width="4" height="3" fill="#efefed" stroke="#cfcfcd" stroke-width="0.6"/></g>
<g transform="translate(1118.6,1489.0) rotate(30)"><rect x="-4.5" y="-6" width="9" height="5.5" rx="1.6" fill="#f7f7f5" stroke="#c9c9c7" stroke-width="1"/><rect x="-2" y="-1.5" width="4" height="3" fill="#efefed" stroke="#cfcfcd" stroke-width="0.6"/></g>
<g transform="translate(1500.0,868.0) rotate(30)"><rect x="-4.5" y="-6" width="9" height="5.5" rx="1.6" fill="#f7f7f5" stroke="#c9c9c7" stroke-width="1"/><rect x="-2" y="-1.5" width="4" height="3" fill="#efefed" stroke="#cfcfcd" stroke-width="0.6"/></g>
<g transform="translate(1596.0,924.0) rotate(30)"><rect x="-4.5" y="-6" width="9" height="5.5" rx="1.6" fill="#f7f7f5" stroke="#c9c9c7" stroke-width="1"/><rect x="-2" y="-1.5" width="4" height="3" fill="#efefed" stroke="#cfcfcd" stroke-width="0.6"/></g>
<g transform="translate(1740.6,1009.5) rotate(30)"><rect x="-4.5" y="-6" width="9" height="5.5" rx="1.6" fill="#f7f7f5" stroke="#c9c9c7" stroke-width="1"/><rect x="-2" y="-1.5" width="4" height="3" fill="#efefed" stroke="#cfcfcd" stroke-width="0.6"/></g>
<g transform="translate(1839.0,1068.0) rotate(30)"><rect x="-4.5" y="-6" width="9" height="5.5" rx="1.6" fill="#f7f7f5" stroke="#c9c9c7" stroke-width="1"/><rect x="-2" y="-1.5" width="4" height="3" fill="#efefed" stroke="#cfcfcd" stroke-width="0.6"/></g>
<g transform="translate(1073.0,1545.0) rotate(-30)"><rect x="-4.5" y="-6" width="9" height="5.5" rx="1.6" fill="#f7f7f5" stroke="#c9c9c7" stroke-width="1"/><rect x="-2" y="-1.5" width="4" height="3" fill="#efefed" stroke="#cfcfcd" stroke-width="0.6"/></g>
<g transform="translate(1208.0,1470.0) rotate(-30)"><rect x="-4.5" y="-6" width="9" height="5.5" rx="1.6" fill="#f7f7f5" stroke="#c9c9c7" stroke-width="1"/><rect x="-2" y="-1.5" width="4" height="3" fill="#efefed" stroke="#cfcfcd" stroke-width="0.6"/></g>
<g transform="translate(1794.8,1126.0) rotate(-30)"><rect x="-4.5" y="-6" width="9" height="5.5" rx="1.6" fill="#f7f7f5" stroke="#c9c9c7" stroke-width="1"/><rect x="-2" y="-1.5" width="4" height="3" fill="#efefed" stroke="#cfcfcd" stroke-width="0.6"/></g>
<g transform="translate(1929.8,1051.0) rotate(-30)"><rect x="-4.5" y="-6" width="9" height="5.5" rx="1.6" fill="#f7f7f5" stroke="#c9c9c7" stroke-width="1"/><rect x="-2" y="-1.5" width="4" height="3" fill="#efefed" stroke="#cfcfcd" stroke-width="0.6"/></g>
<g transform="translate(412.0,1160.5) rotate(30)"><rect x="-4.5" y="-6" width="9" height="5.5" rx="1.6" fill="#f7f7f5" stroke="#c9c9c7" stroke-width="1"/><rect x="-2" y="-1.5" width="4" height="3" fill="#efefed" stroke="#cfcfcd" stroke-width="0.6"/></g>
<g transform="translate(796.0,1381.0) rotate(30)"><rect x="-4.5" y="-6" width="9" height="5.5" rx="1.6" fill="#f7f7f5" stroke="#c9c9c7" stroke-width="1"/><rect x="-2" y="-1.5" width="4" height="3" fill="#efefed" stroke="#cfcfcd" stroke-width="0.6"/></g>
<g transform="translate(1139.0,1082.0) rotate(30)"><rect x="-4.5" y="-6" width="9" height="5.5" rx="1.6" fill="#f7f7f5" stroke="#c9c9c7" stroke-width="1"/><rect x="-2" y="-1.5" width="4" height="3" fill="#efefed" stroke="#cfcfcd" stroke-width="0.6"/></g>
<g transform="translate(1653.0,887.5) rotate(30)"><rect x="-4.5" y="-6" width="9" height="5.5" rx="1.6" fill="#f7f7f5" stroke="#c9c9c7" stroke-width="1"/><rect x="-2" y="-1.5" width="4" height="3" fill="#efefed" stroke="#cfcfcd" stroke-width="0.6"/></g>
</g>
<g id="labels">
<line x1="1467.7" y1="687.7" x2="1788.8" y2="687.7" stroke="#40a3bb" stroke-width="1.6"/>
<circle cx="1467.7" cy="687.7" r="15.6" fill="#40a3bb"/>
<rect x="1781.0" y="680.0" width="15.5" height="15.5" fill="#40a3bb"/>
<text x="1813.2" y="698.4" textLength="152.4" lengthAdjust="spacingAndGlyphs">Biombo</text>
<line x1="1322.0" y1="912.3" x2="1643.5" y2="912.3" stroke="#40a3bb" stroke-width="1.6"/>
<circle cx="1322.0" cy="912.3" r="15.6" fill="#40a3bb"/>
<rect x="1635.7" y="904.5" width="15.5" height="15.5" fill="#40a3bb"/>
<text x="1680.7" y="923.2" textLength="349.3" lengthAdjust="spacingAndGlyphs">Marco de viga baja</text>
<line x1="1143.0" y1="1271.7" x2="1462.3" y2="1271.7" stroke="#40a3bb" stroke-width="1.6"/>
<circle cx="1143.0" cy="1271.7" r="15.6" fill="#40a3bb"/>
<rect x="1454.6" y="1264.0" width="15.5" height="15.5" fill="#40a3bb"/>
<text x="1478.8" y="1260.0" textLength="225.4" lengthAdjust="spacingAndGlyphs">Pata central</text>
<text x="1504.7" y="1305.6" textLength="208.4" lengthAdjust="spacingAndGlyphs">double run</text>
<line x1="941.4" y1="1404.0" x2="1262.5" y2="1404.0" stroke="#40a3bb" stroke-width="1.6"/>
<circle cx="941.4" cy="1404.0" r="15.6" fill="#40a3bb"/>
<rect x="1254.8" y="1396.2" width="15.5" height="15.5" fill="#40a3bb"/>
<text x="1282.9" y="1418.7" textLength="392.2" lengthAdjust="spacingAndGlyphs">Larguero telescópico</text>
<line x1="338.2" y1="1512.8" x2="659.0" y2="1512.8" stroke="#40a3bb" stroke-width="1.6"/>
<circle cx="659.0" cy="1512.8" r="15.6" fill="#40a3bb"/>
<rect x="330.5" y="1505.0" width="15.5" height="15.5" fill="#40a3bb"/>
<text x="21.1" y="1502.1" textLength="294.8" lengthAdjust="spacingAndGlyphs">Pata inicial/final</text>
<text x="107.5" y="1547.4" textLength="208.4" lengthAdjust="spacingAndGlyphs">double run</text>
</g>
</svg>
</body></html>
